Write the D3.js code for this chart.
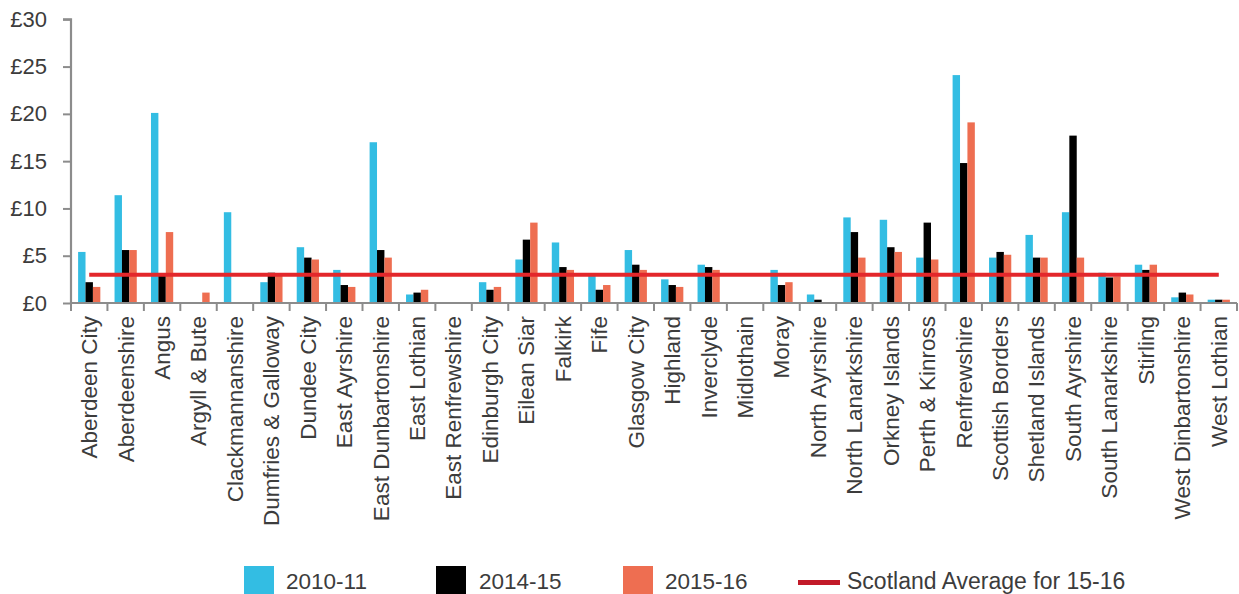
<!DOCTYPE html>
<html><head><meta charset="utf-8">
<script src="https://cdn.jsdelivr.net/npm/d3@7"></script>
<style>
body{margin:0;background:#fff;}
svg{display:block;font-family:"Liberation Sans",Arial,Helvetica,sans-serif;}
</style></head>
<body>
<svg id="chart" width="1239" height="594"></svg>
<script>
const categories = ["Aberdeen City","Aberdeenshire","Angus","Argyll & Bute","Clackmannanshire","Dumfries & Galloway","Dundee City","East Ayrshire","East Dunbartonshire","East Lothian","East Renfrewshire","Edinburgh City","Eilean Siar","Falkirk","Fife","Glasgow City","Highland","Inverclyde","Midlothain","Moray","North Ayrshire","North Lanarkshire","Orkney Islands","Perth & Kinross","Renfrewshire","Scottish Borders","Shetland Islands","South Ayrshire","South Lanarkshire","Stirling","West Dinbartonshire","West Lothian"];
const seriesNames = ["2010-11","2014-15","2015-16"];
const values2010 = [5.4,11.4,20.1,0.1,9.6,2.2,5.9,3.5,17.0,0.9,0,2.2,4.6,6.4,2.9,5.6,2.5,4.05,0,3.5,0.9,9.05,8.8,4.8,24.1,4.8,7.2,9.6,3.2,4.05,0.6,0.35];
const values2014 = [2.2,5.6,3.0,0.1,0,3.2,4.8,1.9,5.6,1.1,0,1.4,6.7,3.8,1.4,4.05,1.9,3.8,0,1.9,0.35,7.5,5.9,8.5,14.8,5.4,4.8,17.7,2.7,3.5,1.1,0.35];
const values2015 = [1.7,5.6,7.5,1.1,0,2.9,4.6,1.7,4.8,1.4,0,1.7,8.5,3.5,1.9,3.5,1.7,3.5,0,2.2,0.1,4.8,5.4,4.6,19.1,5.1,4.8,4.8,2.8,4.05,0.9,0.35];
const scotlandAverage = categories.map(() => 3.0);
const averageName = "Scotland Average for 15-16";
const yTicks = [0,5,10,15,20,25,30];

const colors = ["#33bde3","#000000","#ee6e51"];
const avgColor = "#e3272b";
const legendLineColor = "#c21a29";
const axisColor = "#8c8c8c";
const textColor = "#3c3c3c";

const svg = d3.select("#chart");
const mLeft = 71, mRight = 1237, mTop = 19.3, mBottom = 303;

const x = d3.scaleBand().domain(categories).range([mLeft, mRight]).padding(0);
const groupW = x.bandwidth() * 0.61;
const x1 = d3.scaleBand().domain(seriesNames).range([0, groupW]).padding(0);
const y = d3.scaleLinear().domain([0, 30]).range([mBottom, mTop]);

const data = categories.map((c, i) => ({cat: c, vals: [values2010[i], values2014[i], values2015[i]]}));

// bars
const g = svg.append("g");
const groups = g.selectAll("g.grp").data(data).join("g")
  .attr("transform", d => `translate(${x(d.cat) + (x.bandwidth() - groupW) / 2},0)`);
groups.selectAll("rect").data(d => d.vals.map((v, k) => ({v, k}))).join("rect")
  .attr("x", d => x1(seriesNames[d.k]))
  .attr("width", x1.bandwidth())
  .attr("y", d => y(d.v))
  .attr("height", d => y(0) - y(d.v))
  .attr("fill", d => colors[d.k]);

// average line
const line = d3.line().x((d, i) => x(categories[i]) + x.bandwidth() / 2).y(d => y(d));
svg.append("path").datum(scotlandAverage)
  .attr("d", line).attr("fill", "none").attr("stroke", avgColor).attr("stroke-width", 4);

// y axis
const yAxis = d3.axisLeft(y).tickValues(yTicks).tickFormat(d => "£" + d).tickSize(8).tickPadding(16);
const ya = svg.append("g").attr("transform", `translate(${mLeft},0)`).call(yAxis);
ya.select(".domain").attr("stroke", axisColor).attr("stroke-width", 2.2).attr("d", `M-8,${mTop}H0V${mBottom}`);
ya.selectAll(".tick line").attr("stroke", axisColor).attr("stroke-width", 2);
ya.selectAll(".tick text").attr("fill", textColor).attr("font-size", 22).attr("font-family", "Liberation Sans, Arial, sans-serif");

// x axis
const xa = svg.append("g").attr("transform", `translate(0,${mBottom})`);
xa.append("line").attr("x1", mLeft).attr("x2", mRight).attr("y1", 0).attr("y2", 0)
  .attr("stroke", axisColor).attr("stroke-width", 2.2);
const boundaries = categories.map(c => x(c)).concat([mRight]);
xa.selectAll("line.tk").data(boundaries).join("line").attr("class", "tk")
  .attr("x1", d => d).attr("x2", d => d).attr("y1", 0).attr("y2", 8)
  .attr("stroke", axisColor).attr("stroke-width", 2);
xa.selectAll("text.lbl").data(categories).join("text").attr("class", "lbl")
  .attr("transform", d => `translate(${x(d) + x.bandwidth() / 2},${13}) rotate(-90)`)
  .attr("text-anchor", "end").attr("dy", "0.35em")
  .attr("font-size", 22.5).attr("fill", textColor)
  .text(d => d);

// legend
const lg = svg.append("g");
const legendItems = [
  {name: seriesNames[0], color: colors[0], sx: 244, tx: 286},
  {name: seriesNames[1], color: colors[1], sx: 436, tx: 479},
  {name: seriesNames[2], color: colors[2], sx: 623, tx: 665}
];
legendItems.forEach(it => {
  lg.append("rect").attr("x", it.sx).attr("y", 566).attr("width", 30).attr("height", 30).attr("fill", it.color);
  lg.append("text").attr("x", it.tx).attr("y", 589).attr("font-size", 22.5).attr("fill", textColor).text(it.name);
});
lg.append("line").attr("x1", 798).attr("x2", 840).attr("y1", 582.5).attr("y2", 582.5)
  .attr("stroke", legendLineColor).attr("stroke-width", 5);
lg.append("text").attr("x", 847).attr("y", 589).attr("font-size", 23).attr("fill", textColor).text(averageName);
</script>
</body></html>
